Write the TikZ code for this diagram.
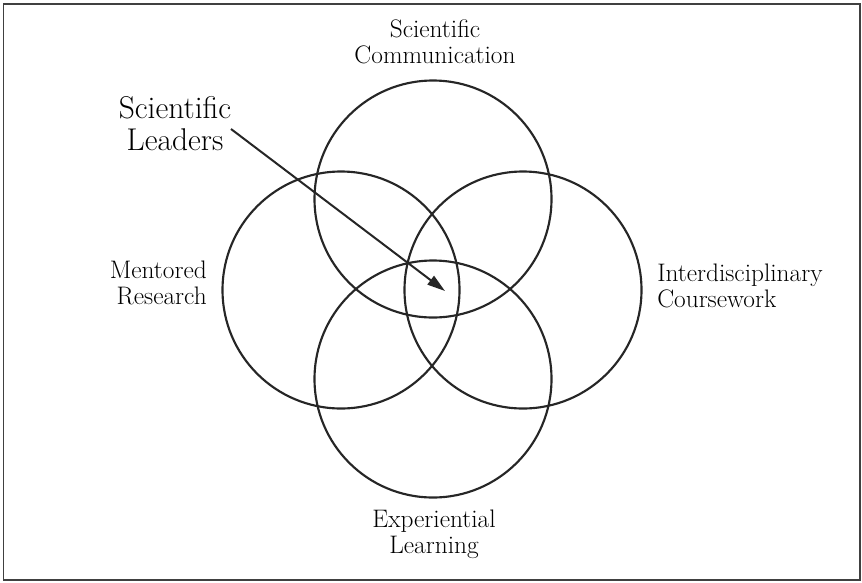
\documentclass[tikz,border=0pt]{standalone}
\usetikzlibrary{arrows.meta}
\begin{document}
\begin{tikzpicture}[x=0.75pt,y=-0.75pt,
  ring/.style={draw=black!85,line width=1.6pt},
  lbl/.style={inner sep=0pt,font=\fontsize{19}{19.5}\selectfont},
  biglbl/.style={inner sep=0pt,font=\fontsize{23.6}{24}\selectfont},
  pointer/.style={draw=black!85,line width=1.5pt,-{Triangle[length=13.5pt,width=8pt]}}]
\useasboundingbox (0,0) rectangle (862,582);
\draw[black!75,line width=1.3pt] (3.5,4) rectangle (860,580);
% circle centres
\coordinate (ctop) at (433,199);
\coordinate (cbot) at (433,379);
\coordinate (cleft) at (341,290);
\coordinate (cright) at (523,290);
\draw[ring] (ctop) circle (118.5);
\draw[ring] (cbot) circle (118.5);
\draw[ring] (cleft) circle (118.5);
\draw[ring] (cright) circle (118.5);
% labels (base anchor = baseline of last line)
\node[lbl,align=center,anchor=base] (comm) at (435,63) {Scientific\\Communication};
\node[lbl,align=right,anchor=base east] (ment) at (207,304) {Mentored\\Research};
\node[lbl,align=left,anchor=base west] (inter) at (657,307) {Interdisciplinary\\Coursework};
\node[lbl,align=center,anchor=base] (exper) at (434,553) {Experiential\\Learning};
\node[biglbl,align=center,anchor=base] (leaders) at (175,150) {Scientific\\Leaders};
% arrow
\coordinate (arrowstart) at (231,129);
\coordinate (arrowtip) at (445,291);
\draw[pointer] (arrowstart) -- (arrowtip);
\end{tikzpicture}
\end{document}
